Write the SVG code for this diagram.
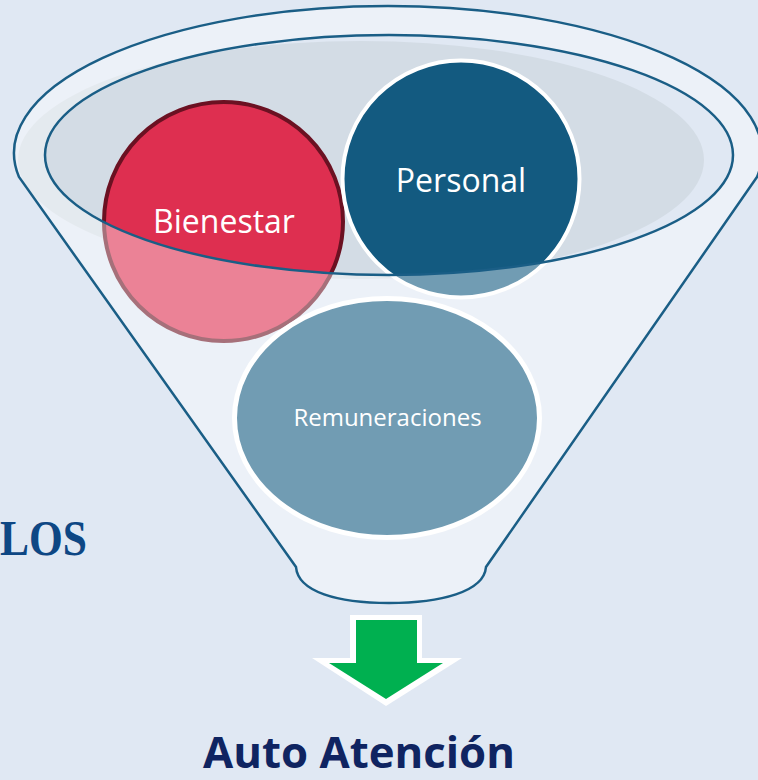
<svg xmlns="http://www.w3.org/2000/svg" width="758" height="780" viewBox="0 0 758 780">
  <style>
    .rim { fill: none; stroke: #1A5E86; stroke-width: 2.5; }
    .node-text { font-family: "Open Sans", "Noto Sans", "Liberation Sans", sans-serif; fill: #FFFFFF; text-anchor: middle; }
    .blue { fill: #135A80; stroke: #FFFFFF; }
  </style>
  <rect x="0" y="0" width="758" height="780" fill="#E0E8F3"/>

  <g id="funnel-back">
    <ellipse cx="361" cy="160" rx="343" ry="119" fill="#D3DCE5"/>
  </g>

  <g id="nodes">
    <g id="node-bienestar">
      <circle cx="223.5" cy="221.5" r="119.5" fill="#DE2F50" stroke="#6B1122" stroke-width="4"/>
      <text class="node-text" x="224" y="233" font-size="32">Bienestar</text>
    </g>
    <g id="node-personal">
      <circle class="blue" cx="461" cy="179" r="118.5" stroke-width="4"/>
      <text class="node-text" x="461" y="192" font-size="32">Personal</text>
    </g>
    <g id="node-remuneraciones">
      <ellipse class="blue" cx="387" cy="418" rx="152.5" ry="119.5" stroke-width="5"/>
      <text class="node-text" x="387.5" y="426" font-size="24">Remuneraciones</text>
    </g>
  </g>

  <g id="funnel-front">
    <path fill="#FFFFFF" fill-opacity="0.4" fill-rule="evenodd"
      d="M19,177 A374,147 0 1 1 757,177 L486,567 C484,592 440,603 389,603 C338,603 298,592 296,567 Z
         M45,155 A344,120 0 1 0 733,155 A344,120 0 1 0 45,155 Z"/>
    <path class="rim" d="M19,177 A374,147 0 1 1 757,177 L486,567 C484,592 440,603 389,603 C338,603 298,592 296,567 Z"/>
    <ellipse class="rim" cx="389" cy="155" rx="344" ry="120"/>
  </g>

  <g id="connectors">
    <polygon points="350,615 422,615 422,658 462,658 386,706 312,658 350,658" fill="#FFFFFF"/>
    <polygon points="356,620 417,620 417,663 443,663 386,699 329,663 356,663" fill="#00B050"/>
  </g>

  <g id="labels">
    <text x="0" y="555" font-family="'Liberation Serif', 'Times New Roman', serif" font-weight="bold" font-size="51" fill="#0E4784" textLength="87" lengthAdjust="spacingAndGlyphs">LOS</text>
    <text x="359" y="768" font-family="'Open Sans', 'Noto Sans', 'Liberation Sans', sans-serif" font-weight="bold" font-size="43" fill="#0F2461" text-anchor="middle" textLength="312" lengthAdjust="spacingAndGlyphs">Auto Atención</text>
  </g>
</svg>
